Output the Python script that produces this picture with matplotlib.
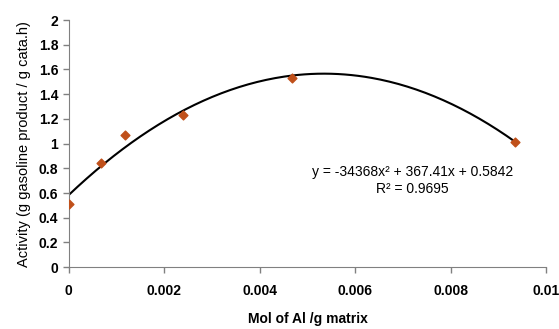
import numpy as np
import matplotlib.pyplot as plt

plt.rcParams['font.family'] = ['Liberation Sans', 'DejaVu Sans']

# Al content vs. catalytic activity
al_mol = [0.0, 0.00067, 0.00117, 0.0024, 0.00467, 0.00935]
activity = [0.51, 0.84, 1.07, 1.23, 1.53, 1.01]

# polynomial trendline coefficients (x^2, x, const)
coef = [-34368, 367.41, 0.5842]
r2 = 0.9695

fig = plt.figure(figsize=(5.59, 3.29), dpi=100)
ax = fig.add_axes([0.123, 0.188, 0.854, 0.751])

xs = np.linspace(0, al_mol[-1], 200)
ax.plot(xs, np.polyval(coef, xs), color='black', lw=1.5, zorder=2)
ax.scatter(al_mol, activity, marker='D', s=20, color='#c0501a', zorder=3)

ax.text(0.0072, 0.77, 'y = -34368x² + 367.41x + 0.5842',
        ha='center', va='center', fontsize=10)
ax.text(0.0072, 0.635, f'R² = {r2}', ha='center', va='center', fontsize=10)

ax.set_xlim(0, 0.01)
ax.set_ylim(0, 2)
ax.set_xticks(np.arange(0, 0.0101, 0.002))
ax.set_xticklabels(['0', '0.002', '0.004', '0.006', '0.008', '0.01'])
ax.set_yticks(np.arange(0, 2.01, 0.2))
ax.set_yticklabels(['0', '0.2', '0.4', '0.6', '0.8', '1', '1.2', '1.4', '1.6', '1.8', '2'])

for side in ['top', 'right']:
    ax.spines[side].set_visible(False)
for side in ['left', 'bottom']:
    ax.spines[side].set_color('#808080')
ax.tick_params(colors='#808080', length=4, width=1, labelcolor='black', labelsize=10)
for lbl in ax.get_xticklabels() + ax.get_yticklabels():
    lbl.set_fontweight('bold')
ax.tick_params(axis='x', pad=8)

ax.set_xlabel('Mol of Al /g matrix', fontsize=10, fontweight='bold', labelpad=10)
ax.set_ylabel('Activity (g gasoline product / g cata.h)', fontsize=10.5, labelpad=6)

fig.savefig('out.png', dpi=100)
